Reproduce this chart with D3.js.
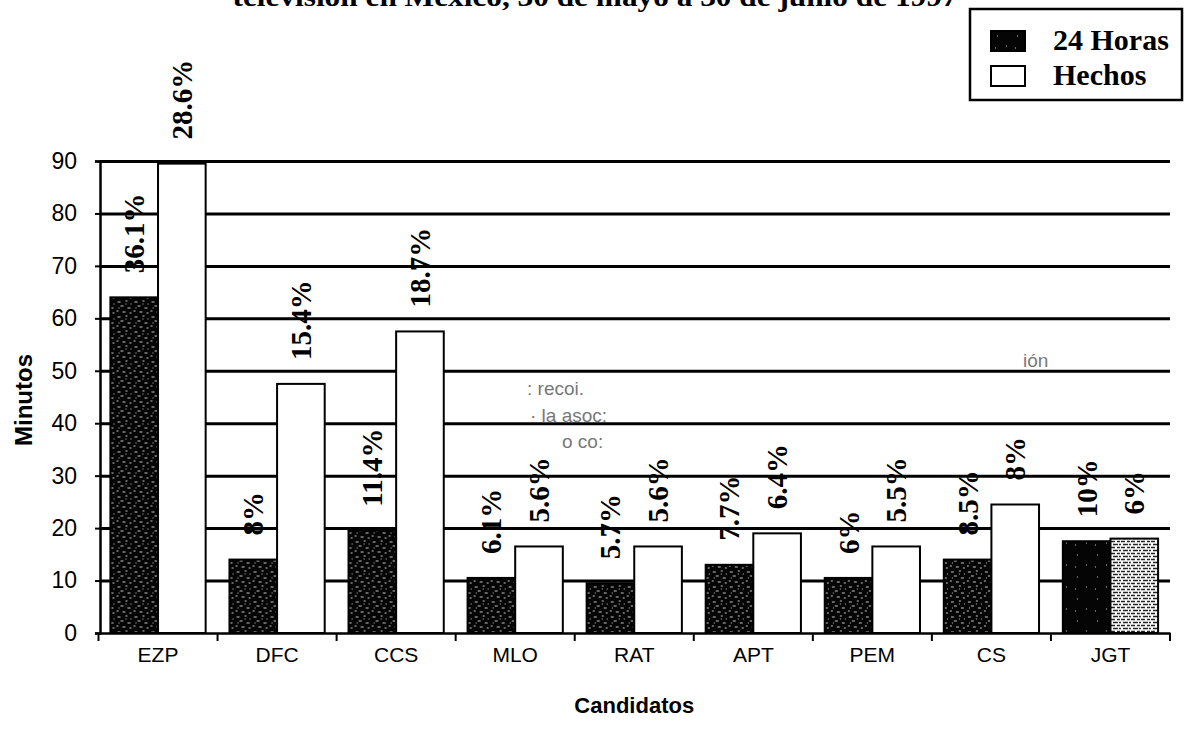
<!DOCTYPE html>
<html>
<head>
<meta charset="utf-8">
<script src="https://cdn.jsdelivr.net/npm/d3@7"></script>
<style>
  html, body { margin: 0; padding: 0; background: #fff; }
  svg { display: block; }
</style>
</head>
<body>
<svg id="chart" width="1193" height="736"></svg>
<script>
// Tiempo en pantalla por candidato (minutos) en dos noticiarios
const categories = ["EZP", "DFC", "CCS", "MLO", "RAT", "APT", "PEM", "CS", "JGT"];
const series = ["24 Horas", "Hechos"];
const minutos24Horas = [64, 14, 19.5, 10.5, 9.5, 13, 10.5, 14, 17.5];
const minutosHechos = [89.5, 47.5, 57.5, 16.5, 16.5, 19, 16.5, 24.5, 18];
const pct24Horas = ["36.1%", "8%", "11.4%", "6.1%", "5.7%", "7.7%", "6%", "8.5%", "10%"];
const pctHechos = ["28.6%", "15.4%", "18.7%", "5.6%", "5.6%", "6.4%", "5.5%", "8%", "6%"];
const yTicks = [0, 10, 20, 30, 40, 50, 60, 70, 80, 90];
const titleText = "televisión en México, 30 de mayo a 30 de junio de 1997";
const xTitle = "Candidatos";
const yTitle = "Minutos";
// faint print showing through from the reverse side of the page
const showThrough = [": recoi.", "· la asoc:", "o  co:", "ión"];

const svg = d3.select("#chart");
const serif = "'Liberation Serif', 'Times New Roman', serif";
const sans = "'Liberation Sans', Arial, sans-serif";

// fills: speckled black for 24 Horas, stippled grey for the last Hechos bar
const defs = svg.append("defs");
const speckle = defs.append("pattern").attr("id", "speckle")
  .attr("width", 17).attr("height", 15).attr("patternUnits", "userSpaceOnUse");
speckle.append("rect").attr("width", 17).attr("height", 15).attr("fill", "#050505");
speckle.append("path")
  .attr("d", "M2 2h3 M10 1h2 M5 6h3 M12 8h3 M1 11h2 M7 12h3 M15 4h1 M3 8h1 M10 4h1 M14 13h2")
  .attr("stroke", "#f4f4f4").attr("stroke-width", 1.1).attr("opacity", 0.8);

const solidDark = defs.append("pattern").attr("id", "solidDark")
  .attr("width", 20).attr("height", 22).attr("patternUnits", "userSpaceOnUse");
solidDark.append("rect").attr("width", 20).attr("height", 22).attr("fill", "#050505");
solidDark.append("path").attr("d", "M6 5h1 M15 15h1 M4 17h1")
  .attr("stroke", "#ccc").attr("stroke-width", 1);

const stipple = defs.append("pattern").attr("id", "stipple")
  .attr("width", 10).attr("height", 6).attr("patternUnits", "userSpaceOnUse");
stipple.append("rect").attr("width", 10).attr("height", 6).attr("fill", "#fff");
stipple.append("path").attr("d", "M0 1.5h4 M6 1.5h3 M2 4.5h5 M8 4.5h2")
  .attr("stroke", "#222").attr("stroke-width", 1.3);

// scales
const x = d3.scaleBand().domain(categories).range([98.5, 1170]);
const xSub = d3.scaleBand().domain(series).range([0, x.bandwidth()]).paddingOuter(0.25);
const y = d3.scaleLinear().domain([0, 90]).range([633, 161]);

// title (its upper part runs off the top of the page)
svg.append("text")
  .attr("x", 595).attr("y", 6)
  .attr("text-anchor", "middle")
  .attr("font-family", serif).attr("font-weight", "bold").attr("font-size", 28)
  .attr("textLength", 725).attr("lengthAdjust", "spacingAndGlyphs")
  .text(titleText);

// horizontal grid lines
const grid = svg.append("g").attr("transform", "translate(100,0)")
  .call(d3.axisLeft(y).tickValues(yTicks.slice(1)).tickSize(-(1170 - 100)).tickFormat(""));
grid.select(".domain").remove();
grid.selectAll("line").attr("stroke", "#000").attr("stroke-width", 3);

// show-through text
const stPos = [[527, 395], [530, 422], [562, 448], [1023, 367]];
svg.append("g").selectAll("text").data(showThrough).join("text")
  .attr("x", (d, i) => stPos[i][0]).attr("y", (d, i) => stPos[i][1])
  .attr("font-family", sans).attr("font-size", 19).attr("fill", "#777")
  .text(d => d);

// bars
const rows = categories.map((c, i) => ({
  cat: c,
  vals: [
    { s: series[0], v: minutos24Horas[i], pct: pct24Horas[i] },
    { s: series[1], v: minutosHechos[i], pct: pctHechos[i] }
  ]
}));

const groups = svg.append("g").selectAll("g").data(rows).join("g")
  .attr("transform", d => `translate(${x(d.cat)},0)`);

groups.selectAll("rect").data(d => d.vals.map(v => ({ ...v, cat: d.cat }))).join("rect")
  .attr("x", d => xSub(d.s))
  .attr("y", d => y(d.v))
  .attr("width", xSub.bandwidth())
  .attr("height", d => y(0) - y(d.v))
  .attr("fill", d => {
    if (d.s === series[0]) return d.cat === "JGT" ? "url(#solidDark)" : "url(#speckle)";
    return d.cat === "JGT" ? "url(#stipple)" : "#fff";
  })
  .attr("stroke", "#000").attr("stroke-width", 2);

// rotated percentage labels above each bar
groups.selectAll("text").data(d => d.vals).join("text")
  .attr("transform", d => `translate(${xSub(d.s) + xSub.bandwidth() / 2 + 10},${y(d.v) - 24}) rotate(-90)`)
  .attr("text-anchor", "start")
  .attr("font-family", serif).attr("font-weight", "bold").attr("font-size", 29)
  .text(d => d.pct);

// y axis
const yAxis = svg.append("g").attr("transform", "translate(100,0)")
  .call(d3.axisLeft(y).tickValues(yTicks).tickSize(5).tickPadding(18).tickFormat(d3.format("d")));
yAxis.select(".domain").attr("stroke", "#000").attr("stroke-width", 2.5);
yAxis.selectAll("line").attr("stroke", "#000").attr("stroke-width", 2);
yAxis.selectAll("text").attr("font-family", sans).attr("font-size", 23).attr("fill", "#000");

// x axis with category labels
const xAxis = svg.append("g").attr("transform", `translate(0,${y(0)})`)
  .call(d3.axisBottom(x).tickSize(0).tickPadding(14));
xAxis.select(".domain").attr("stroke", "#000").attr("stroke-width", 2.5);
xAxis.selectAll("text").attr("font-family", sans).attr("font-size", 21).attr("fill", "#000");

// tick marks at band boundaries
const bounds = categories.map(c => x(c)).concat([x.range()[1]]);
svg.append("g").selectAll("line").data(bounds).join("line")
  .attr("x1", d => d).attr("x2", d => d)
  .attr("y1", y(0)).attr("y2", y(0) + 8)
  .attr("stroke", "#000").attr("stroke-width", 2);

// axis titles
svg.append("text")
  .attr("x", (x.range()[0] + x.range()[1]) / 2).attr("y", 713)
  .attr("text-anchor", "middle")
  .attr("font-family", sans).attr("font-weight", "bold").attr("font-size", 22)
  .text(xTitle);

svg.append("text")
  .attr("transform", "translate(32,400) rotate(-90)")
  .attr("text-anchor", "middle")
  .attr("font-family", sans).attr("font-weight", "bold").attr("font-size", 24)
  .text(yTitle);

// legend
const legend = svg.append("g");
legend.append("rect")
  .attr("x", 970).attr("y", 9).attr("width", 212).attr("height", 91)
  .attr("fill", "#fff").attr("stroke", "#000").attr("stroke-width", 2.5);
const legendFills = ["url(#solidDark)", "#fff"];
const legendRows = legend.selectAll("g").data(series).join("g")
  .attr("transform", (d, i) => `translate(991,${31 + i * 35})`);
legendRows.append("rect")
  .attr("width", 34).attr("height", 20)
  .attr("fill", (d, i) => legendFills[i])
  .attr("stroke", "#000").attr("stroke-width", 2);
legendRows.append("text")
  .attr("x", 62).attr("y", 19)
  .attr("font-family", serif).attr("font-weight", "bold").attr("font-size", 30)
  .text(d => d);
</script>
</body>
</html>
